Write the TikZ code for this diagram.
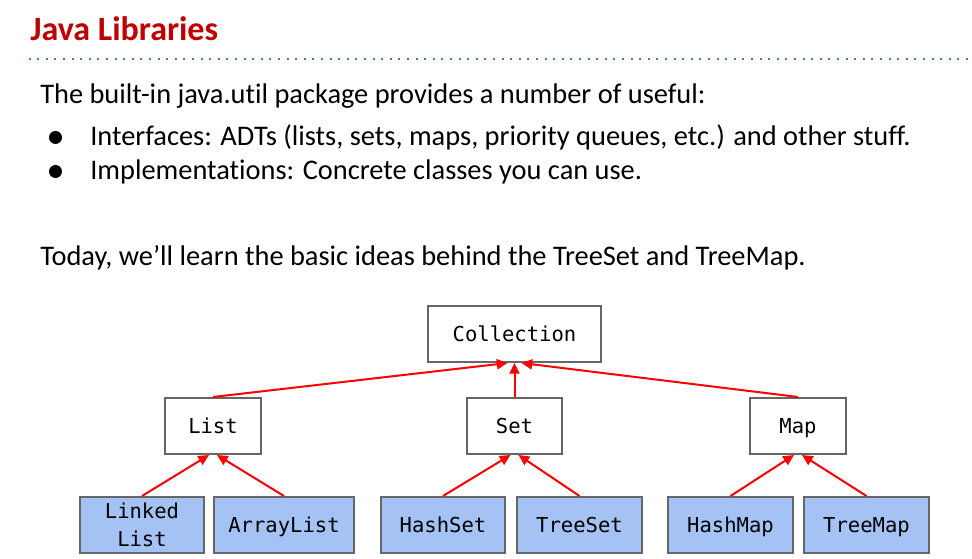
\documentclass[tikz,border=0pt]{standalone}
\usepackage{fontspec}
\setmainfont[Ligatures={NoCommon}]{Carlito}
\newfontfamily\monof{DejaVu Sans Mono}
\usetikzlibrary{arrows.meta}
\newdimen\pxu \pxu=0.75pt
\definecolor{titlered}{HTML}{C00000}
\definecolor{dotblue}{HTML}{3D78C8}
\definecolor{boxgray}{HTML}{666666}
\definecolor{implblue}{HTML}{A4C2F4}
\tikzset{
  ifacebox/.style={draw=boxgray, line width=1.5pt, fill=white, minimum height=56\pxu, inner sep=0pt, text height=15.6pt, text depth=4pt, font=\monof\fontsize{15.4}{21}\selectfont, align=center},
  implbox/.style={ifacebox, fill=implblue},
  inherit/.style={draw=red, line width=1.5pt, -{Triangle[length=8pt,width=7.5pt]}},
  bodytext/.style={anchor=base west, inner sep=0pt, font=\fontsize{21.3}{25}\selectfont},
  bulletdot/.style={circle, fill=black, inner sep=0pt, minimum size=13\pxu}
}
\begin{document}
\begin{tikzpicture}[x=0.75pt, y=-0.75pt]
\useasboundingbox (0,0) rectangle (972,559);
\node[anchor=base west, inner sep=0pt, text=titlered, font=\bfseries\fontsize{25.5}{30}\selectfont] (title) at (30,41) {Java Libraries};
\foreach \i in {0,...,109} {
  \fill[dotblue] ({29.5+\i*8.6-1},58.3) rectangle ++(2,2);
}
\node[bodytext] (l1) at (40,104) {The built-in java.util package provides a number of useful:};
\node[bulletdot] (b1) at (55.5,137.5) {};
\node[bodytext] (l2) at (90,146) {Interfaces: ADTs (lists, sets, maps, priority queues, etc.) and other stuff.};
\node[bulletdot] (b2) at (55.5,171.5) {};
\node[bodytext] (l3) at (90,180) {Implementations: Concrete classes you can use.};
\node[bodytext] (l4) at (40,266) {Today, we’ll learn the basic ideas behind the TreeSet and TreeMap.};

\node[ifacebox, minimum width=173\pxu] (coll) at (514.5,334) {Collection};
\node[ifacebox, minimum width=96\pxu] (list) at (213,426) {List};
\node[ifacebox, minimum width=95\pxu] (set) at (514.5,426) {Set};
\node[ifacebox, minimum width=96\pxu] (map) at (798,426) {Map};
\node[implbox, minimum width=124\pxu, text height=36.6pt, text depth=4pt] (ll) at (142,525) {Linked\\List};
\node[implbox, minimum width=140\pxu] (al) at (284,525) {ArrayList};
\node[implbox, minimum width=124\pxu] (hs) at (443,525) {HashSet};
\node[implbox, minimum width=125\pxu] (ts) at (579.5,525) {TreeSet};
\node[implbox, minimum width=125\pxu] (hm) at (730.5,525) {HashMap};
\node[implbox, minimum width=125\pxu] (tm) at (866.5,525) {TreeMap};

\draw[inherit] (list.north) -- ([xshift=-7\pxu]coll.south);
\draw[inherit] (set.north) -- (coll.south);
\draw[inherit] (map.north) -- ([xshift=7\pxu]coll.south);
\draw[inherit] (ll.north) -- ([xshift=-4\pxu]list.south);
\draw[inherit] (al.north) -- ([xshift=4\pxu]list.south);
\draw[inherit] (hs.north) -- ([xshift=-4\pxu]set.south);
\draw[inherit] (ts.north) -- ([xshift=4\pxu]set.south);
\draw[inherit] (hm.north) -- ([xshift=-4\pxu]map.south);
\draw[inherit] (tm.north) -- ([xshift=4\pxu]map.south);
\end{tikzpicture}
\end{document}
